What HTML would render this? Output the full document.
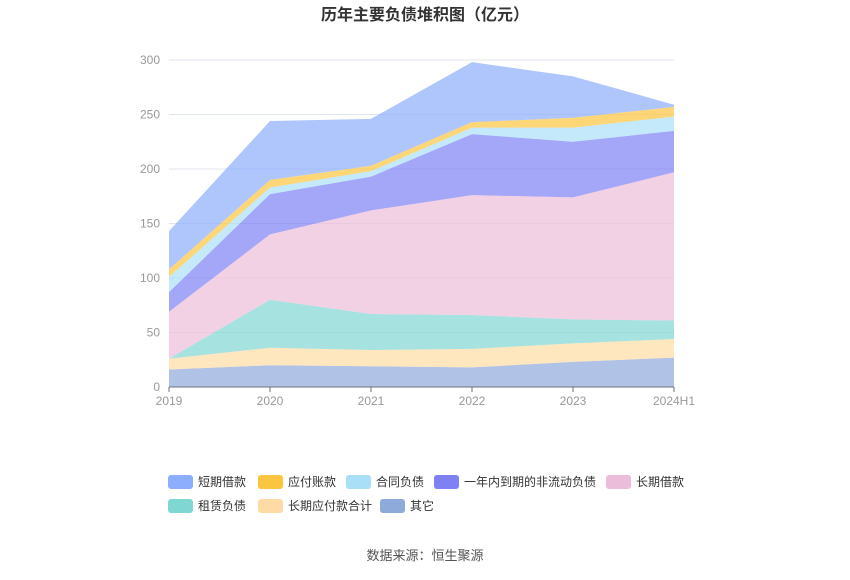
<!DOCTYPE html>
<html><head><meta charset="utf-8"><style>
body{margin:0;background:#fff;font-family:"Liberation Sans","Noto Sans CJK SC",sans-serif;}
svg text{font-family:"Liberation Sans","Noto Sans CJK SC",sans-serif;}
</style></head><body>
<svg id="c" width="850" height="575">
<text x="425" y="20" text-anchor="middle" font-size="16" font-weight="bold" fill="#333">历年主要负债堆积图（亿元）</text>
<g id="grid"></g><g id="areas"></g><g id="axes"></g><g id="legend"></g>
<text x="425" y="560" text-anchor="middle" font-size="13" fill="#555">数据来源：恒生聚源</text>
</svg>
<script>
const categories=["2019","2020","2021","2022","2023","2024H1"];
const seriesNames=["其它","长期应付款合计","租赁负债","长期借款","一年内到期的非流动负债","合同负债","应付账款","短期借款"];
const sOther=[16,20,19,18,23,27];
const sLongPay=[10,16,15,17,17,17];
const sLease=[0,44,33,31,22,17];
const sLongLoan=[43,60,95,110,112,136];
const sCurrentNon=[18,37,31,56,51,38];
const sContract=[14,6,5,6,13,13];
const sPayable=[7,7,5,5,9,9];
const sShort=[35,54,43,55,38,2];
const yTicks=[0,50,100,150,200,250,300];
const series=[sOther,sLongPay,sLease,sLongLoan,sCurrentNon,sContract,sPayable,sShort];
const colors=["#8eaadb","#fedba4","#80d6d3","#ecbdda","#7e80f3","#a9e0f8","#fcc53f","#8daefc"];
const NS="http://www.w3.org/2000/svg";
const x0=169,x1=674,yb=387,yt=60;
const xs=i=>x0+(x1-x0)*i/(categories.length-1);
const ys=v=>yb-(yb-yt)*v/300;
function mk(t,a,p){const e=document.createElementNS(NS,t);for(const k in a)e.setAttribute(k,a[k]);p.appendChild(e);return e;}
const grid=document.getElementById('grid'),axes=document.getElementById('axes'),areas=document.getElementById('areas'),leg=document.getElementById('legend');
yTicks.forEach(v=>{
 const l=mk('line',{x1:x0,x2:x1,y1:ys(v),y2:ys(v),stroke:'#e0e6f1'},grid);
 
 
 const t=mk('text',{x:x0-9,y:ys(v)+4,'text-anchor':'end','font-size':12,fill:'#999'},axes);t.textContent=v;
 
 
});
const ax=mk('line',{x1:x0,x2:x1,y1:yb,y2:yb,stroke:'#6e7079'},axes);


categories.forEach((c,i)=>{
 mk('line',{x1:xs(i),x2:xs(i),y1:yb,y2:yb+5,stroke:'#6e7079'},axes);
 const t=mk('text',{x:xs(i),y:yb+18,'text-anchor':'middle','font-size':12,fill:'#999'},axes);t.textContent=c;
 
 
});
let base=categories.map(()=>0);
series.forEach((s,k)=>{
 const top=base.map((b,i)=>b+s[i]);
 let d='M'+top.map((v,i)=>xs(i)+','+ys(v)).join(' L');
 for(let i=categories.length-1;i>=0;i--)d+=' L'+xs(i)+','+ys(base[i]);
 const p=mk('path',{d:d+'Z',fill:colors[k],'fill-opacity':0.7},areas);
 
 
 base=top;
});
const legOrder=[7,6,5,4,3,2,1,0];
const legPos=[[168,482],[258,482],[346,482],[434,482],[606,482],[168,506],[258,506],[380,506]];
legOrder.forEach((k,j)=>{
 const [lx,ly]=legPos[j];
 const g=mk('g',{},leg);
 
 
 mk('rect',{x:lx,y:ly-7,width:25,height:14,rx:3,fill:colors[k]},g);
 const t=mk('text',{x:lx+30,y:ly+4,'font-size':12,fill:'#333'},g);t.textContent=seriesNames[k];
});
</script>
</body></html>
